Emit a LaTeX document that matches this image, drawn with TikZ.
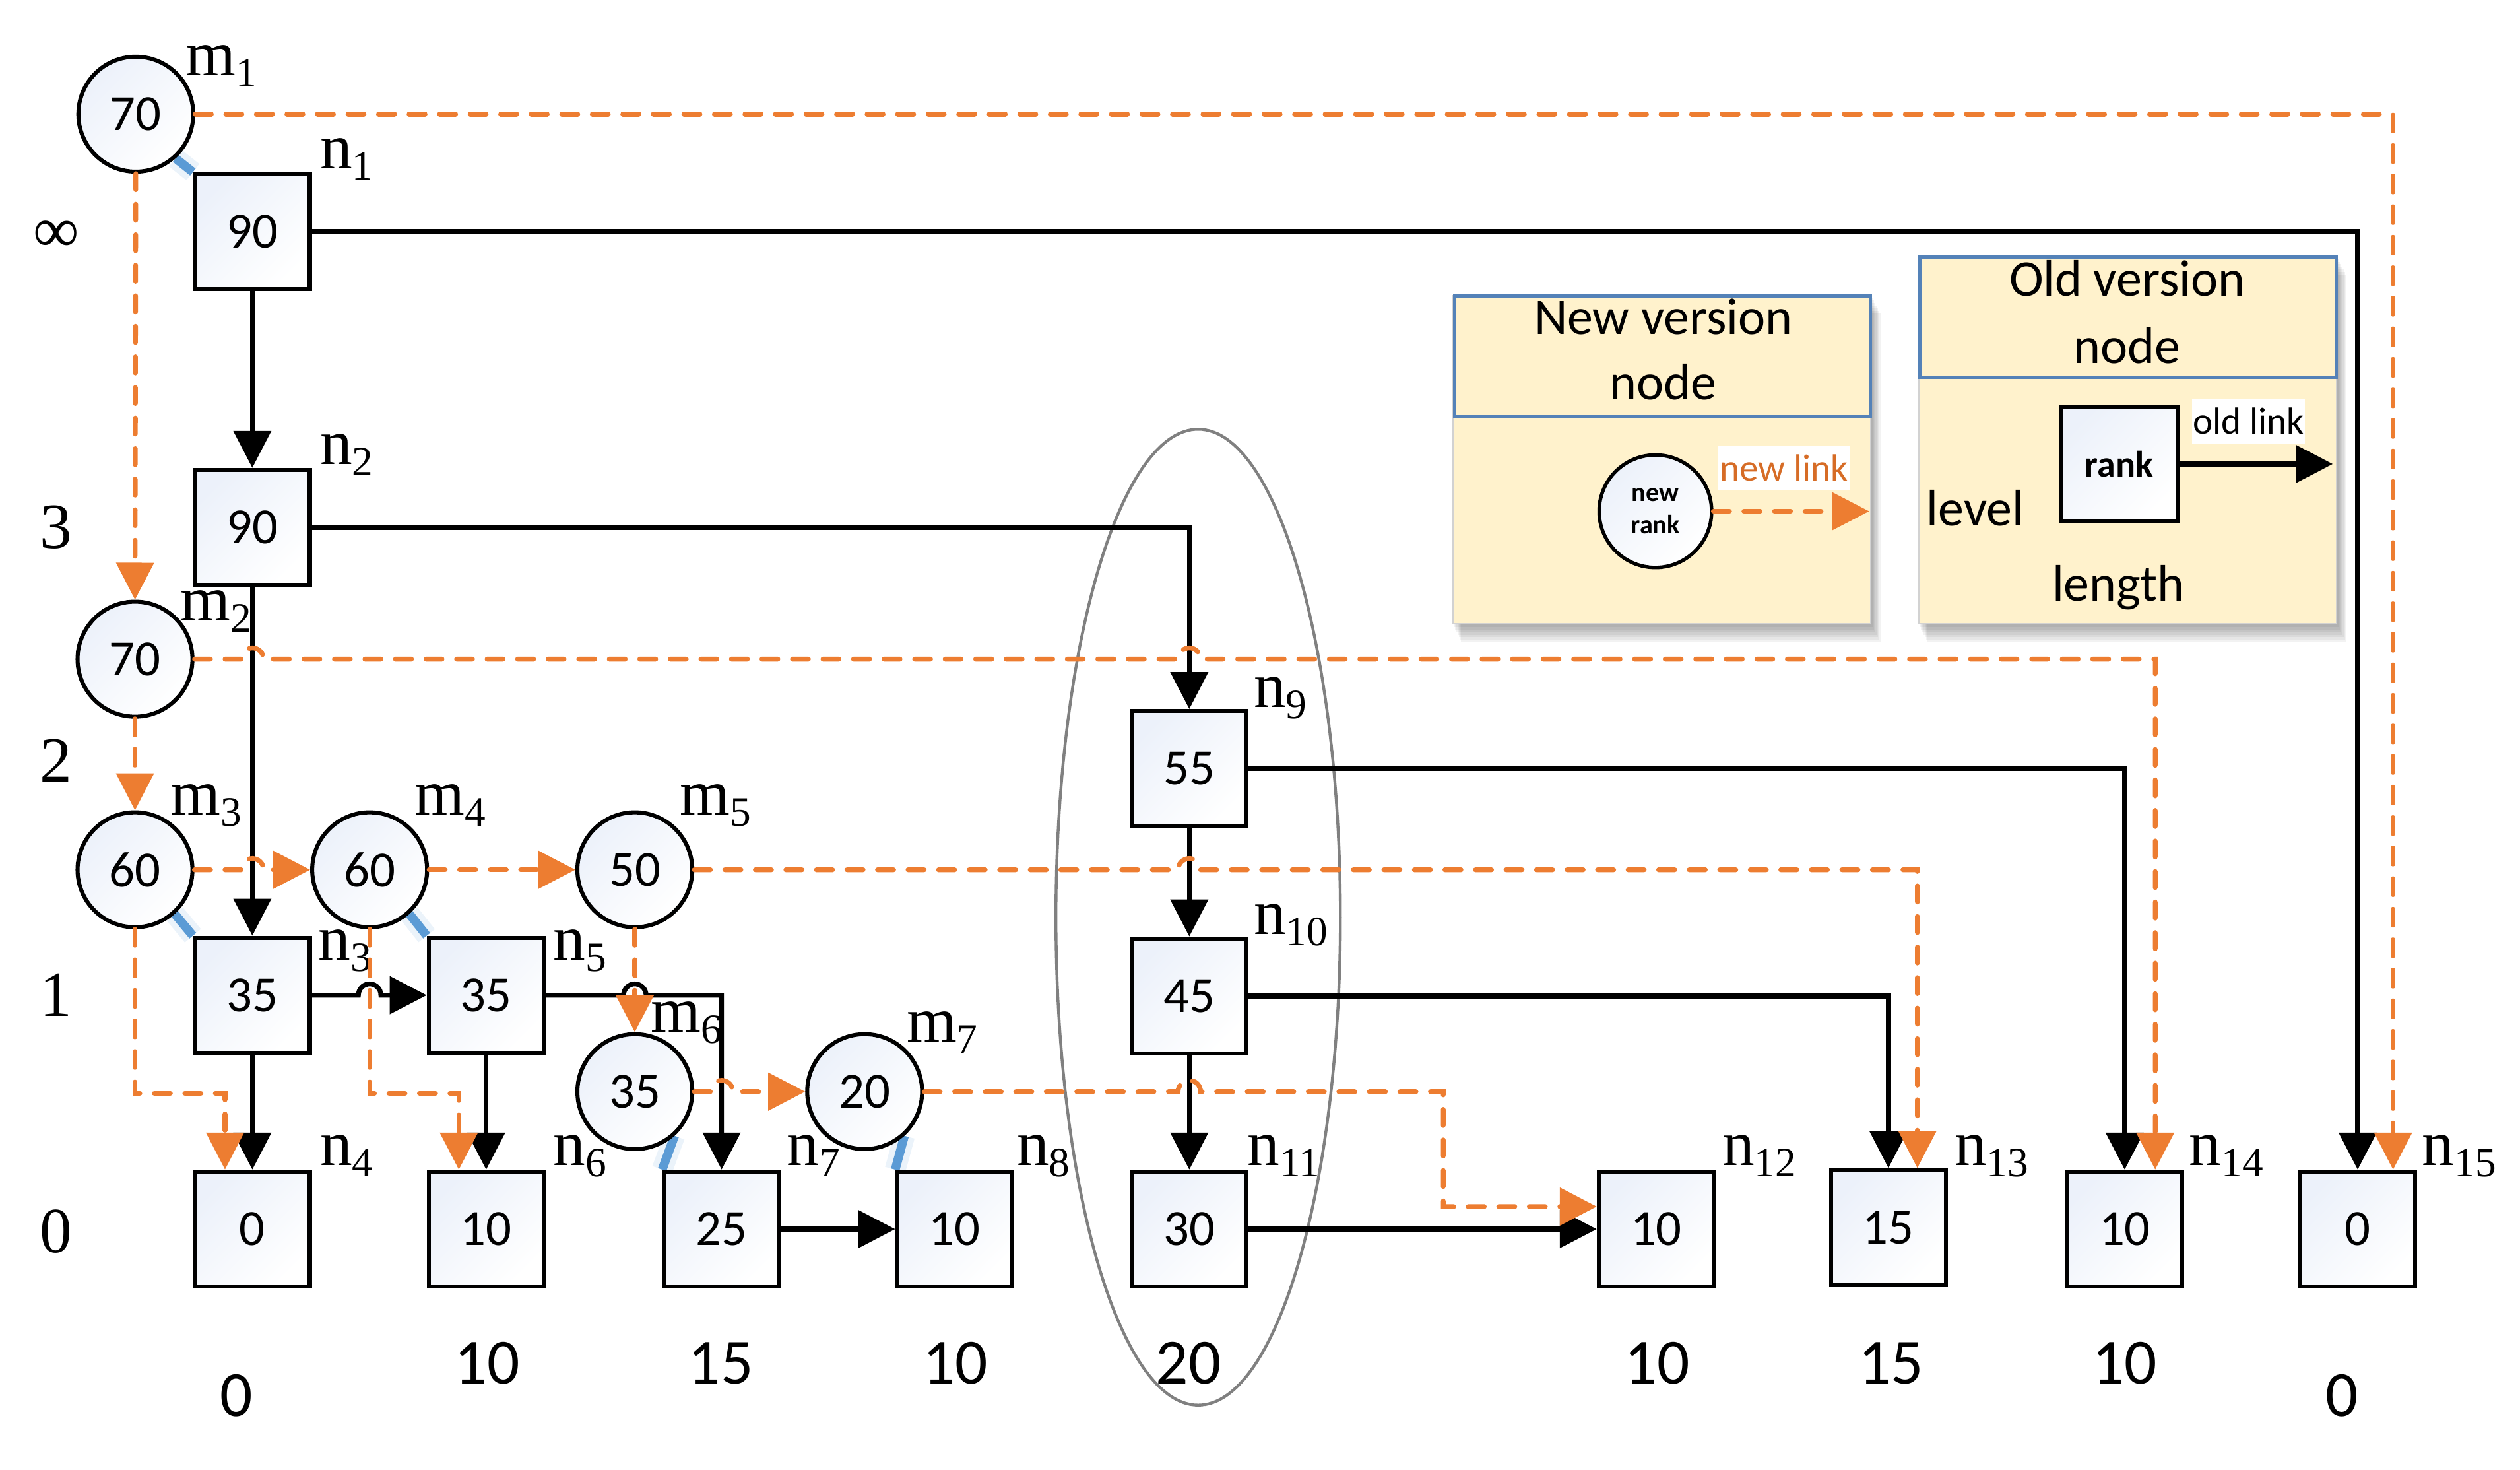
\documentclass[tikz,border=0pt]{standalone}
\usepackage{fontspec}
\setmainfont{Liberation Serif}
\newfontfamily\calib{Carlito}
\usetikzlibrary{arrows.meta}
\definecolor{org}{RGB}{237,125,49}
\definecolor{orgtxt}{RGB}{214,108,38}
\definecolor{lnk}{RGB}{91,155,213}
\definecolor{cream}{RGB}{255,242,204}
\definecolor{hdrc}{RGB}{84,130,184}
\definecolor{shd}{RGB}{236,241,250}
\newcommand\numfont{\calib\fontsize{31.5}{31.5}\selectfont}
\newcommand\lenfont{\calib\fontsize{40}{40}\selectfont}
\newcommand\levfont{\fontsize{40}{40}\selectfont}
\newcommand\lgdfont{\calib\fontsize{32}{32}\selectfont}
\newcommand\lnkfont{\calib\fontsize{23.5}{23.5}\selectfont}
\newcommand\sublab[2]{#1\raisebox{-7pt}{\fontsize{26}{26}\selectfont #2}}
\pgfdeclarelayer{background}
\pgfsetlayers{background,main}
\begin{document}
\begin{tikzpicture}[x=1pt,y=-1pt,
  oldnode/.style={rectangle,draw=black,line width=2.5pt,minimum width=71.5pt,minimum height=71.5pt,inner sep=0pt,top color=shd,bottom color=white,shading angle=45,font=\numfont},
  newnode/.style={circle,draw=black,line width=2.5pt,minimum size=71.5pt,inner sep=0pt,top color=shd,bottom color=white,shading angle=45,font=\numfont},
  oldlink/.style={draw=black,line width=3pt,-{Triangle[length=23pt,width=23pt]}},
  newlink/.style={draw=org,line width=3pt,dash pattern=on 10pt off 9pt,line cap=round,-{Triangle[length=23pt,width=23pt]}},
  bluelink/.style={draw=lnk,line width=5.5pt},
  glowlink/.style={draw=lnk!40,line width=13pt,opacity=0.3},
  lbl/.style={inner sep=0pt,anchor=base west,font=\levfont},
  lev/.style={inner sep=0pt,font=\levfont},
  len/.style={inner sep=0pt,font=\lenfont},
  panel/.style={rectangle,fill=cream,draw=gray!35,line width=0.8pt,inner sep=0pt},
  hdr/.style={rectangle,draw=hdrc,line width=2pt,inner sep=0pt},
  lgd/.style={inner sep=0pt,anchor=base,font=\lgdfont},
  tag/.style={fill=white,inner sep=0pt,minimum height=28pt,font=\lnkfont}
]
\useasboundingbox (0,0) rectangle (1568,914);

% grouping ellipse
\draw[gray,line width=1.8pt] (745.5,570.5) ellipse[x radius=88.5,y radius=303.5];

% ---------- legend ----------
\node[panel,minimum width=260pt,minimum height=204pt] (newpanel) at (1034,286) {};
\node[panel,minimum width=260pt,minimum height=228pt] (oldpanel) at (1324,274) {};
\begin{pgfonlayer}{background}
\foreach \i in {1,...,7}{
  \fill[black,opacity=0.05] ([xshift=0.8*\i pt,yshift=-1.6*\i pt]newpanel.south west) rectangle ([xshift=0.8*\i pt,yshift=-1.6*\i pt]newpanel.north east);
  \fill[black,opacity=0.05] ([xshift=0.8*\i pt,yshift=-1.6*\i pt]oldpanel.south west) rectangle ([xshift=0.8*\i pt,yshift=-1.6*\i pt]oldpanel.north east);
}
\end{pgfonlayer}
\node[hdr,minimum width=259pt,minimum height=75pt] (newhdr) at (1034.5,221.5) {};
\node[hdr,minimum width=259pt,minimum height=74.5pt] (oldhdr) at (1324,197.3) {};
\node[lgd] (tnew1) at (1035,208) {New version};
\node[lgd] (tnew2) at (1035,248.5) {node};
\node[lgd] (told1) at (1323.6,184.3) {Old version};
\node[lgd] (told2) at (1323.6,226) {node};
\node[newnode,minimum size=70pt,line width=2.2pt,align=center,font=\calib\bfseries\fontsize{16.5}{20}\selectfont] (lcirc) at (1030,318) {new\\rank};
\node[tag,minimum width=82pt,text=orgtxt] (tnl) at (1110,291) {new link};
\coordinate (newtip) at (1163,318);
\draw[newlink] (lcirc.east) -- (newtip);
\node[oldnode,minimum width=72.5pt,minimum height=71.5pt,font=\calib\bfseries\fontsize{23}{23}\selectfont] (lbox) at (1318.5,288.6) {rank};
\node[tag,minimum width=70pt] (tol) at (1399,262) {old link};
\coordinate (oldtip) at (1451.5,288.6);
\draw[oldlink] (lbox.east) -- (oldtip);
\node[lgd] (tlevel) at (1229,327) {level};
\node[lgd] (tlength) at (1318,374) {length};

% ---------- old version nodes ----------
\node[oldnode] (n1) at (157,144) {90};
\node[oldnode] (n2) at (157,328) {90};
\node[oldnode] (n3) at (157,619) {35};
\node[oldnode] (n4) at (157,764.5) {0};
\node[oldnode] (n5) at (302.5,619) {35};
\node[oldnode] (n6) at (302.5,764.5) {10};
\node[oldnode] (n7) at (449,764.5) {25};
\node[oldnode] (n8) at (594,764.5) {10};
\node[oldnode] (n9) at (740,478) {55};
\node[oldnode] (n10) at (740,619.5) {45};
\node[oldnode] (n11) at (740,764.5) {30};
\node[oldnode] (n12) at (1030.5,764.5) {10};
\node[oldnode] (n13) at (1175,763.5) {15};
\node[oldnode] (n14) at (1322,764.5) {10};
\node[oldnode] (n15) at (1467,764.5) {0};

% ---------- new version nodes ----------
\node[newnode] (m1) at (84.5,71) {70};
\node[newnode] (m2) at (84,410) {70};
\node[newnode] (m3) at (84,541) {60};
\node[newnode] (m4) at (230,541) {60};
\node[newnode] (m5) at (395,541) {50};
\node[newnode] (m6) at (395,679) {35};
\node[newnode] (m7) at (538,679) {20};

% blue version links
\begin{pgfonlayer}{background}
\foreach \a/\b in {m1/n1,m3/n3,m4/n5,m6/n7,m7/n8}{
  \draw[glowlink] (\a.-48) -- (\b.north west);
  \draw[bluelink] (\a.-48) -- (\b.north west);
}
\end{pgfonlayer}

% ---------- node labels ----------
\node[lbl] (lm1) at (115.5,47) {\sublab{m}{1}};
\node[lbl] (lm2) at (112,386) {\sublab{m}{2}};
\node[lbl] (lm3) at (106,507) {\sublab{m}{3}};
\node[lbl] (lm4) at (258,507) {\sublab{m}{4}};
\node[lbl] (lm5) at (423,507) {\sublab{m}{5}};
\node[lbl] (lm6) at (405,642) {\sublab{m}{6}};
\node[lbl] (lm7) at (564,648) {\sublab{m}{7}};
\node[lbl] (ln1) at (199,105) {\sublab{n}{1}};
\node[lbl] (ln2) at (199,289) {\sublab{n}{2}};
\node[lbl] (ln3) at (198,597) {\sublab{n}{3}};
\node[lbl] (ln4) at (199,725) {\sublab{n}{4}};
\node[lbl] (ln5) at (344,597) {\sublab{n}{5}};
\node[lbl] (ln6) at (344,725) {\sublab{n}{6}};
\node[lbl] (ln7) at (489.5,725) {\sublab{n}{7}};
\node[lbl] (ln8) at (632.5,725) {\sublab{n}{8}};
\node[lbl] (ln9) at (780,440) {\sublab{n}{9}};
\node[lbl] (ln10) at (780,581) {\sublab{n}{10}};
\node[lbl] (ln11) at (776,725) {\sublab{n}{11}};
\node[lbl] (ln12) at (1071.5,725) {\sublab{n}{12}};
\node[lbl] (ln13) at (1216,725) {\sublab{n}{13}};
\node[lbl] (ln14) at (1362,725) {\sublab{n}{14}};
\node[lbl] (ln15) at (1507,725) {\sublab{n}{15}};

% level labels
\node[lev] (lvinf) at (35,147) {∞};
\node[lev] (lv3) at (35,328) {3};
\node[lev] (lv2) at (35,473) {2};
\node[lev] (lv1) at (35,619) {1};
\node[lev] (lv0) at (35,766) {0};

% length labels
\node[len] (ln0a) at (147,868) {0};
\node[len] (lna) at (303,848) {10};
\node[len] (lnb) at (448.5,848) {15};
\node[len] (lnc) at (594.5,848) {10};
\node[len] (lnd) at (739.5,848) {20};
\node[len] (lne) at (1031,848) {10};
\node[len] (lnf) at (1176.5,848) {15};
\node[len] (lng) at (1322,848) {10};
\node[len] (ln0b) at (1457,868) {0};

% ---------- old links ----------
\draw[oldlink] (n1.east) -| (n15.north);
\draw[oldlink] (n1.south) -- (n2.north);
\draw[oldlink] (n2.east) -| (n9.north);
\draw[oldlink] (n2.south) -- (n3.north);
\draw[oldlink] (n3.east) -- (223,619) arc[start angle=180,end angle=360,radius=7] -- (n5.west);
\draw[oldlink] (n3.south) -- (n4.north);
\draw[oldlink] (n5.south) -- (n6.north);
\draw[oldlink] (n5.east) -- (388,619) arc[start angle=180,end angle=360,radius=7] -| (n7.north);
\draw[oldlink] (n7.east) -- (n8.west);
\draw[oldlink] (n9.south) -- (n10.north);
\draw[oldlink] (n9.east) -| (n14.north);
\draw[oldlink] (n10.south) -- (n11.north);
\draw[oldlink] (n10.east) -| (n13.north);
\draw[oldlink] (n11.east) -- (n12.west);

% ---------- new links ----------
\draw[newlink] (m1.east) -| ([xshift=22pt]n15.north);
\draw[newlink] (m1.south) -- (m2.north);
\draw[newlink] (m2.south) -- (m3.north);
\draw[newlink] (m2.east) -- (150,410) arc[start angle=180,end angle=360,radius=7] -- (733,410) arc[start angle=180,end angle=360,radius=7] -| ([xshift=19pt]n14.north);
\draw[newlink] (m3.east) -- (150,541) arc[start angle=180,end angle=360,radius=7] -- (m4.west);
\draw[newlink] (m4.east) -- (m5.west);
\draw[newlink] (m5.east) -- (733,541) arc[start angle=180,end angle=360,radius=7] -| ([xshift=18pt]n13.north);
\draw[newlink] (m5.south) -- (m6.north);
\draw[newlink] (m6.east) -- (442,679) arc[start angle=180,end angle=360,radius=7] -- (m7.west);
\draw[newlink] (m7.east) -- (733,679) arc[start angle=180,end angle=360,radius=7] -- (898,679) |- ([yshift=14pt]n12.west);
\draw[newlink] (m3.south) -- (84,680) -| ([xshift=-17pt]n4.north);
\draw[newlink] (m4.south) -- (230,680) -| ([xshift=-17pt]n6.north);
\end{tikzpicture}
\end{document}
